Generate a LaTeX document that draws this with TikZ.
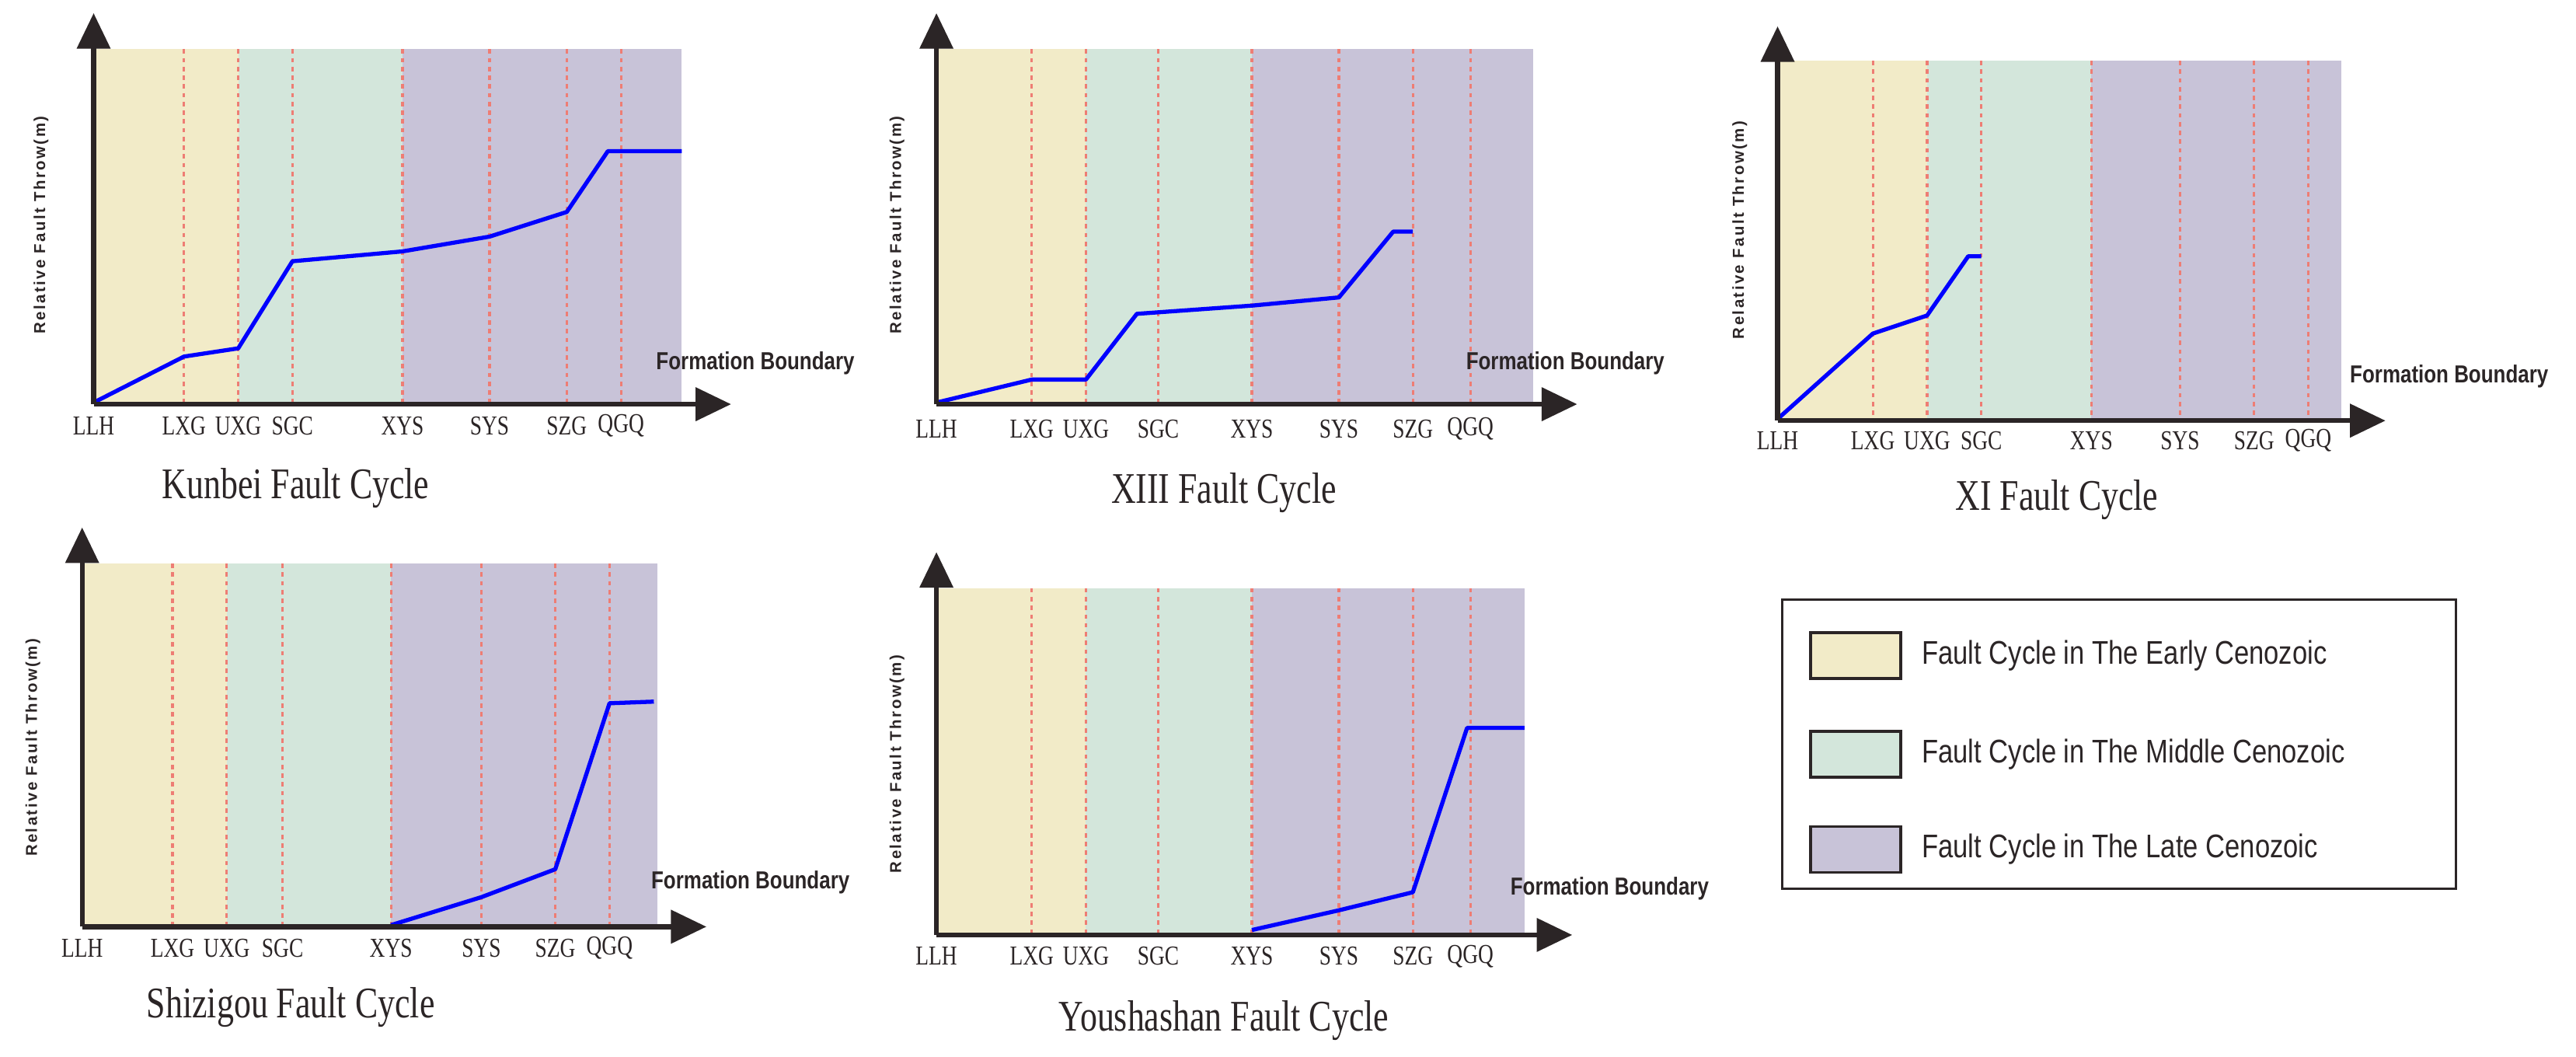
\documentclass[tikz,border=0pt]{standalone}
\usepackage{fontspec}
\setmainfont{Liberation Serif}
\newfontfamily\capfont{Liberation Serif}[FakeStretch=0.78]
\newfontfamily\legfont{Liberation Sans}[FakeStretch=0.82]
\newfontfamily\ylabfont{Liberation Sans}[LetterSpace=12]
\usetikzlibrary{arrows.meta}
\definecolor{earlyc}{HTML}{F2EBC8}
\definecolor{middlec}{HTML}{D3E6DB}
\definecolor{latec}{HTML}{C8C3D8}
\definecolor{axisc}{HTML}{2B2526}
\definecolor{bndc}{HTML}{EE7D74}

\begin{document}
\begin{tikzpicture}
    [
        x=0.02114cm, y=-0.02114cm,
        axis style/.style={line width=1.8pt, color=axisc, -{Triangle[length=13pt,width=12pt]}},
        bound style/.style={bndc, line width=0.9pt, dash pattern=on 1.6pt off 1.6pt},
        throw style/.style={blue, line width=1.5pt, line join=round},
        tick label/.style={font=\capfont\fontsize{10}{10}\selectfont, color=axisc},
        cycle title/.style={font=\capfont\fontsize{16}{16}\selectfont, color=axisc},
        fb label/.style={font=\legfont\bfseries\fontsize{9}{9}\selectfont, color=axisc, anchor=east},
        y label/.style={font=\ylabfont\bfseries\fontsize{5.8}{6}\selectfont, color=axisc, rotate=90},
        legend text/.style={font=\legfont\fontsize{12}{12}\selectfont, color=axisc, anchor=west}
    ]
    \useasboundingbox (0,0) rectangle (1568,643);

    % Kunbei
    \fill[earlyc] (57,30) rectangle (145,245);
    \fill[middlec] (145,30) rectangle (245,245);
    \fill[latec] (245,30) rectangle (415,245);
    \foreach \x/\t in {57/LLH,112/LXG,145/UXG,178/SGC,245/XYS,298/SYS,345/SZG,378/QGQ}{
        \ifnum\x>57 \draw[bound style] (\x,30) -- (\x,245); \fi
        \node[tick label] (kb-\t) at (\x,259) {\t};
    }
    \draw[throw style] (57,245) -- (112,217) -- (145,212) -- (178,159) -- (245,153) -- (298,144) -- (345,129) -- (370,92) -- (415,92);
    \coordinate (kb-o) at (57,246);
    \coordinate (kb-y) at (57,8);
    \coordinate (kb-x) at (445,246);
    \draw[axis style] (kb-o) -- (kb-y);
    \draw[axis style] (kb-o) -- (kb-x);
    \node[fb label] (kb-fb) at (526,221) {Formation Boundary};
    \node[y label] (kb-yl) at (25,137) {Relative Fault Throw(m)};
    \node[cycle title] (kb-title) at (180,297) {Kunbei Fault Cycle};

    % XIII
    \fill[earlyc] (570,30) rectangle (661,245);
    \fill[middlec] (661,30) rectangle (762,245);
    \fill[latec] (762,30) rectangle (933,245);
    \foreach \x/\t in {570/LLH,628/LXG,661/UXG,705/SGC,762/XYS,815/SYS,860/SZG,895/QGQ}{
        \ifnum\x>570 \draw[bound style] (\x,30) -- (\x,245); \fi
        \node[tick label] (xiii-\t) at (\x,261) {\t};
    }
    \draw[throw style] (570,245) -- (628,231) -- (661,231) -- (692,191) -- (762,186) -- (815,181) -- (848,141) -- (860,141);
    \coordinate (xiii-o) at (570,246);
    \coordinate (xiii-y) at (570,8);
    \coordinate (xiii-x) at (960,246);
    \draw[axis style] (xiii-o) -- (xiii-y);
    \draw[axis style] (xiii-o) -- (xiii-x);
    \node[fb label] (xiii-fb) at (1019,221) {Formation Boundary};
    \node[y label] (xiii-yl) at (546,137) {Relative Fault Throw(m)};
    \node[cycle title] (xiii-title) at (745,300) {XIII Fault Cycle};

    % XI
    \fill[earlyc] (1082,37) rectangle (1173,255);
    \fill[middlec] (1173,37) rectangle (1273,255);
    \fill[latec] (1273,37) rectangle (1425,255);
    \foreach \x/\t in {1082/LLH,1140/LXG,1173/UXG,1206/SGC,1273/XYS,1327/SYS,1372/SZG,1405/QGQ}{
        \ifnum\x>1082 \draw[bound style] (\x,37) -- (\x,255); \fi
        \node[tick label] (xi-\t) at (\x,268) {\t};
    }
    \draw[throw style] (1082,255) -- (1140,203) -- (1173,192) -- (1198,156) -- (1206,156);
    \coordinate (xi-o) at (1082,256);
    \coordinate (xi-y) at (1082,16);
    \coordinate (xi-x) at (1452,256);
    \draw[axis style] (xi-o) -- (xi-y);
    \draw[axis style] (xi-o) -- (xi-x);
    \node[fb label] (xi-fb) at (1557,229) {Formation Boundary};
    \node[y label] (xi-yl) at (1059,140) {Relative Fault Throw(m)};
    \node[cycle title] (xi-title) at (1252,304) {XI Fault Cycle};

    % Shizigou
    \fill[earlyc] (50,343) rectangle (138,563);
    \fill[middlec] (138,343) rectangle (238,563);
    \fill[latec] (238,343) rectangle (400,563);
    \foreach \x/\t in {50/LLH,105/LXG,138/UXG,172/SGC,238/XYS,293/SYS,338/SZG,371/QGQ}{
        \ifnum\x>50 \draw[bound style] (\x,343) -- (\x,563); \fi
        \node[tick label] (sz-\t) at (\x,577) {\t};
    }
    \draw[throw style] (238,563) -- (293,546) -- (338,529) -- (371,428) -- (398,427);
    \coordinate (sz-o) at (50,564);
    \coordinate (sz-y) at (50,321);
    \coordinate (sz-x) at (430,564);
    \draw[axis style] (sz-o) -- (sz-y);
    \draw[axis style] (sz-o) -- (sz-x);
    \node[fb label] (sz-fb) at (523,537) {Formation Boundary};
    \node[y label] (sz-yl) at (20,455) {Relative Fault Throw(m)};
    \node[cycle title] (sz-title) at (177,613) {Shizigou Fault Cycle};

    % Youshashan
    \fill[earlyc] (570,358) rectangle (661,568);
    \fill[middlec] (661,358) rectangle (762,568);
    \fill[latec] (762,358) rectangle (928,568);
    \foreach \x/\t in {570/LLH,628/LXG,661/UXG,705/SGC,762/XYS,815/SYS,860/SZG,895/QGQ}{
        \ifnum\x>570 \draw[bound style] (\x,358) -- (\x,568); \fi
        \node[tick label] (ys-\t) at (\x,582) {\t};
    }
    \draw[throw style] (762,566) -- (815,554) -- (860,543) -- (893,443) -- (928,443);
    \coordinate (ys-o) at (570,569);
    \coordinate (ys-y) at (570,336);
    \coordinate (ys-x) at (957,569);
    \draw[axis style] (ys-o) -- (ys-y);
    \draw[axis style] (ys-o) -- (ys-x);
    \node[fb label] (ys-fb) at (1046,541) {Formation Boundary};
    \node[y label] (ys-yl) at (546,465) {Relative Fault Throw(m)};
    \node[cycle title] (ys-title) at (745,621) {Youshashan Fault Cycle};

    % legend
    \draw[axisc, line width=0.8pt] (1085,365) rectangle (1495,541);
    \foreach \c/\t/\y in {earlyc/Early/399,middlec/Middle/459,latec/Late/517}{
        \draw[axisc, line width=1pt, fill=\c] (1102,\y-14) rectangle (1157,\y+14);
        \node[legend text] (leg-\t) at (1164,\y) {Fault Cycle in The \t\ Cenozoic};
    }
\end{tikzpicture}
\end{document}
